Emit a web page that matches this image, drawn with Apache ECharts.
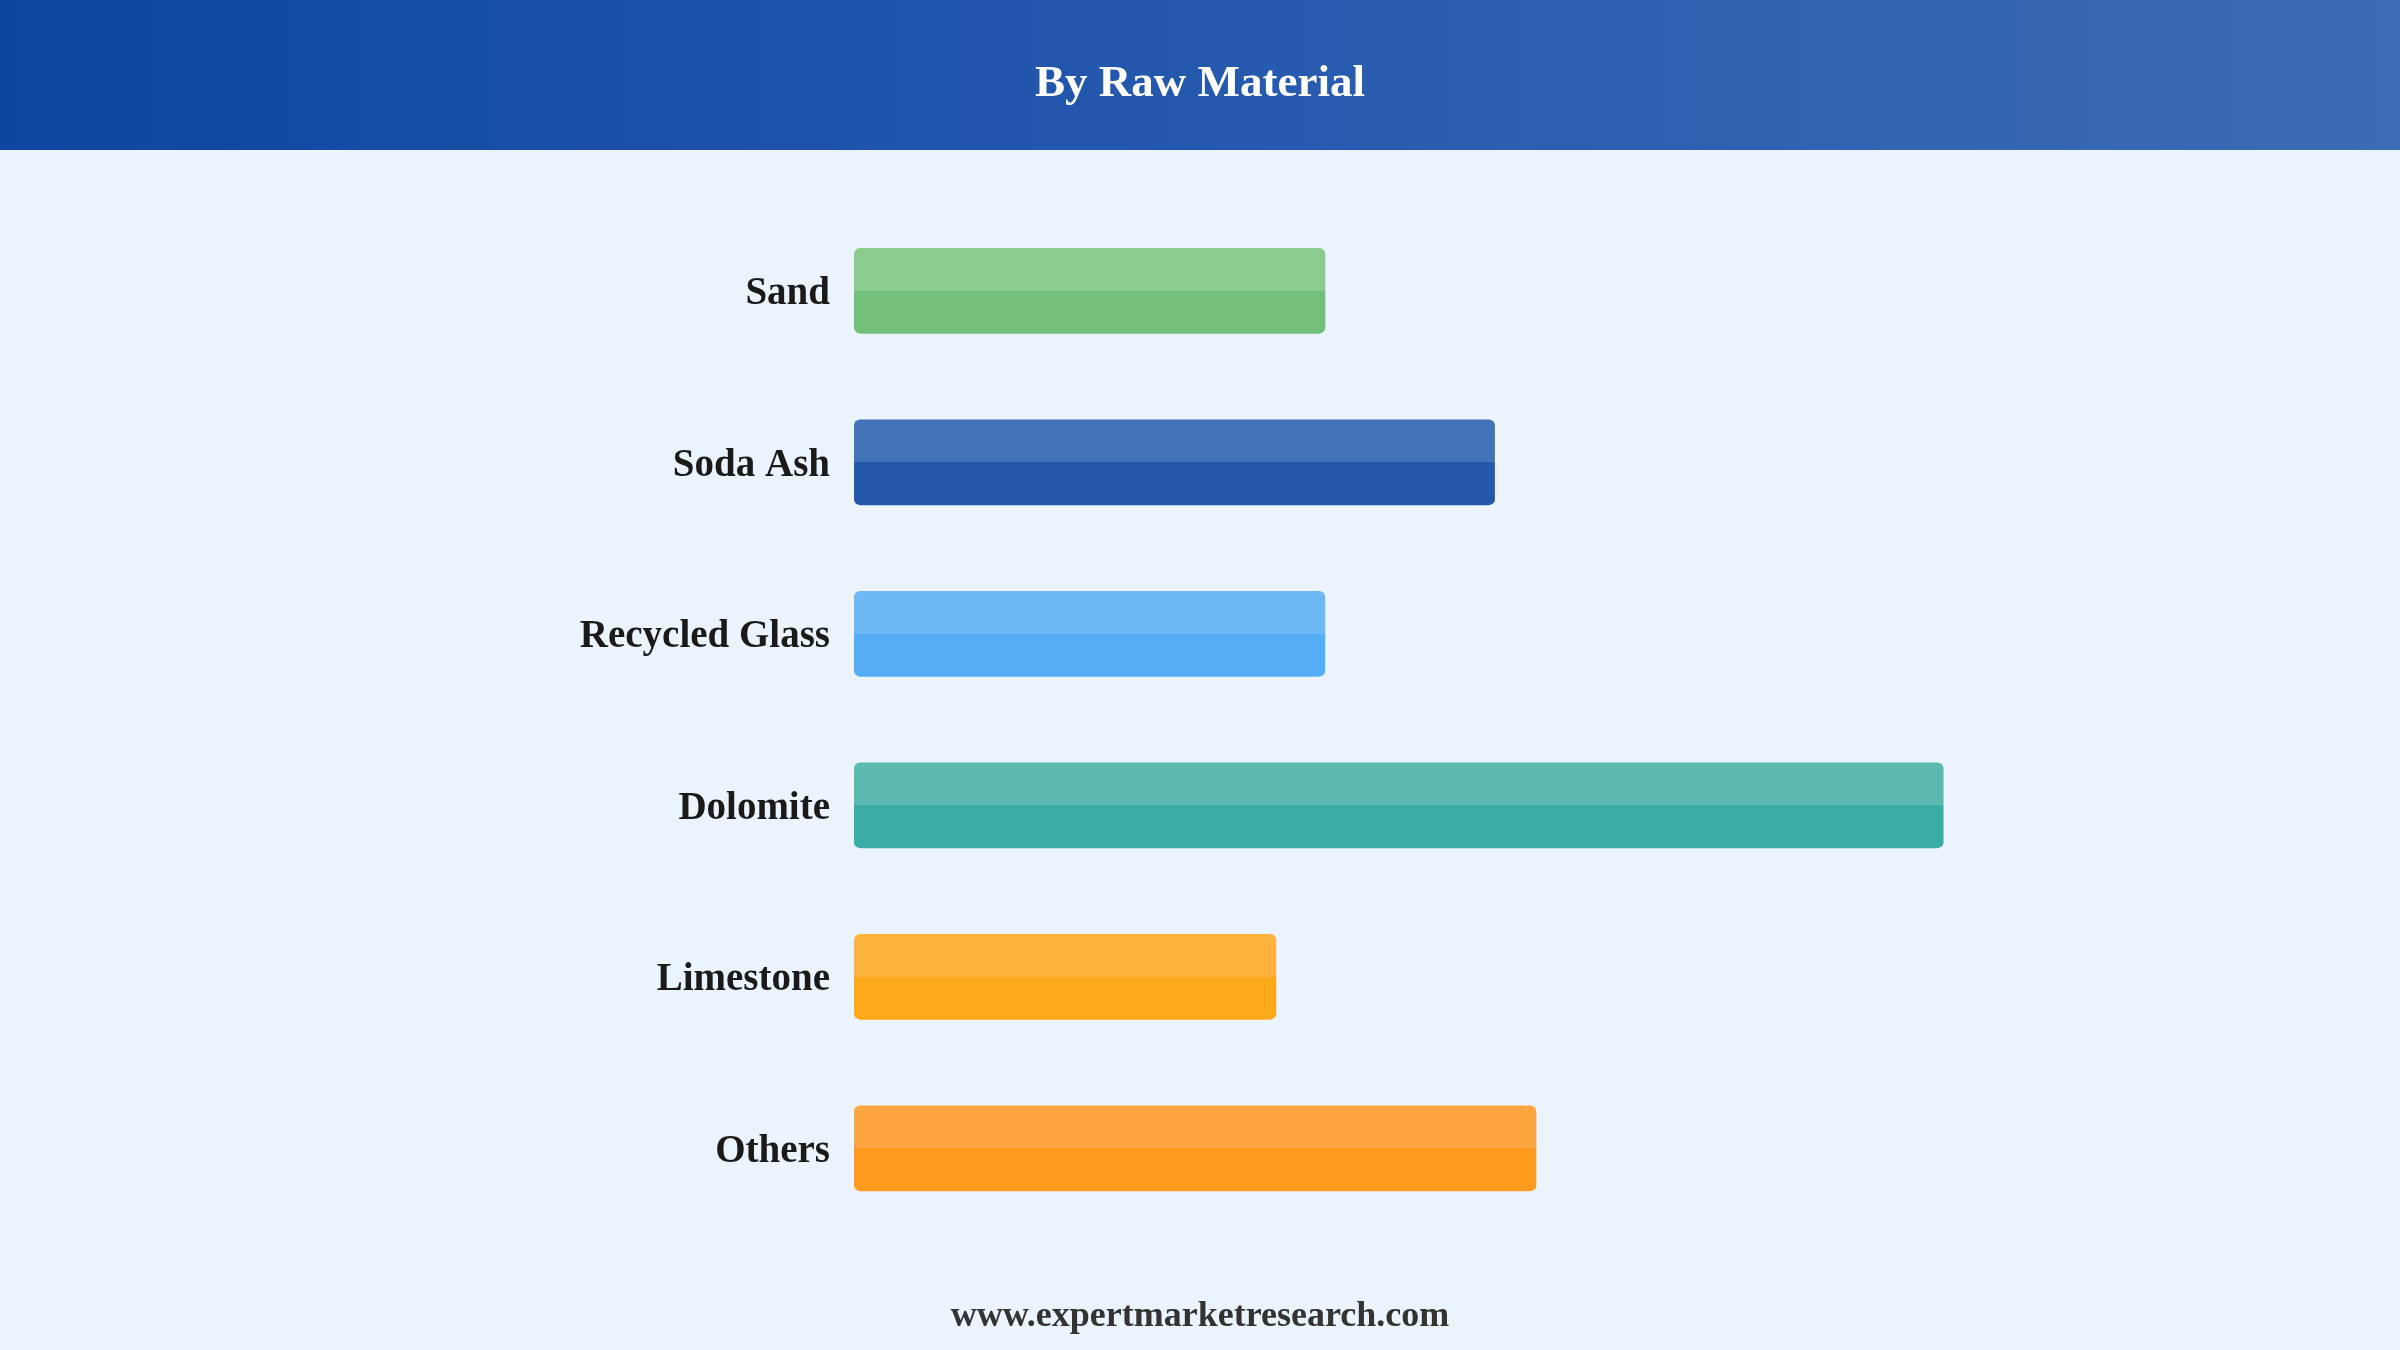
<!DOCTYPE html>
<html>
<head>
<meta charset="utf-8">
<script src="https://cdn.jsdelivr.net/npm/echarts@6/dist/echarts.min.js"></script>
<style>
html,body{margin:0;padding:0;background:#EBF3FC;}
#c{width:2400px;height:1350px;}
</style>
</head>
<body>
<div id="c"></div>
<script>
const categories = ['Sand', 'Soda Ash', 'Recycled Glass', 'Dolomite', 'Limestone', 'Others'];
const values = [12.5, 17.0, 12.5, 28.9, 11.2, 18.1];
const lightColors = ['#8BCB8D', '#4272B8', '#6DB8F5', '#5BB9B0', '#FDB23D', '#FEA53F'];
const darkColors = ['#73C07A', '#2458AA', '#55AEF3', '#3AADA4', '#FCA919', '#FE9A1E'];
const titleText = 'By Raw Material';
const footerText = 'www.expertmarketresearch.com';

const chart = echarts.init(document.getElementById('c'));
const data = values.map((v, i) => ({
  value: v,
  itemStyle: {
    color: new echarts.graphic.LinearGradient(0, 0, 0, 1, [
      {offset: 0, color: lightColors[i]},
      {offset: 0.5, color: lightColors[i]},
      {offset: 0.5, color: darkColors[i]},
      {offset: 1, color: darkColors[i]}
    ])
  }
}));
chart.setOption({
  backgroundColor: '#EBF3FC',
  animation: false,
  graphic: [
    {
      type: 'rect', left: 0, top: 0, z: 0,
      shape: {width: 2400, height: 150},
      style: {
        fill: new echarts.graphic.LinearGradient(0, 0, 1, 0, [
          {offset: 0, color: '#0D45A0'},
          {offset: 0.5, color: '#2559AE'},
          {offset: 1, color: '#3D6CB5'}
        ])
      }
    },
    {
      type: 'text', left: 'center', top: 62, z: 1,
      style: {text: titleText, fill: '#FFFFFF', font: 'bold 45px "Liberation Serif", "Times New Roman", serif'}
    },
    {
      type: 'text', left: 'center', top: 1299, z: 1,
      style: {text: footerText, fill: '#333333', font: 'bold 36px "Liberation Serif", "Times New Roman", serif'}
    }
  ],
  grid: {left: 854, right: 38, top: 205, bottom: 116, containLabel: false},
  xAxis: {type: 'value', min: 0, max: 40, show: false},
  yAxis: {
    type: 'category', data: categories, inverse: true,
    axisLine: {show: false}, axisTick: {show: false}, splitLine: {show: false},
    axisLabel: {
      margin: 24,
      formatter: '{a|{value}}',
      rich: {
        a: {
          color: '#1A1A1A', fontSize: 39, fontWeight: 'bold',
          padding: [7, 0, 0, 0],
          fontFamily: '"Liberation Serif", "Times New Roman", serif'
        }
      }
    }
  },
  series: [{
    type: 'bar', data: data, barWidth: '50%',
    itemStyle: {borderRadius: 6}
  }]
});
</script>
</body>
</html>
